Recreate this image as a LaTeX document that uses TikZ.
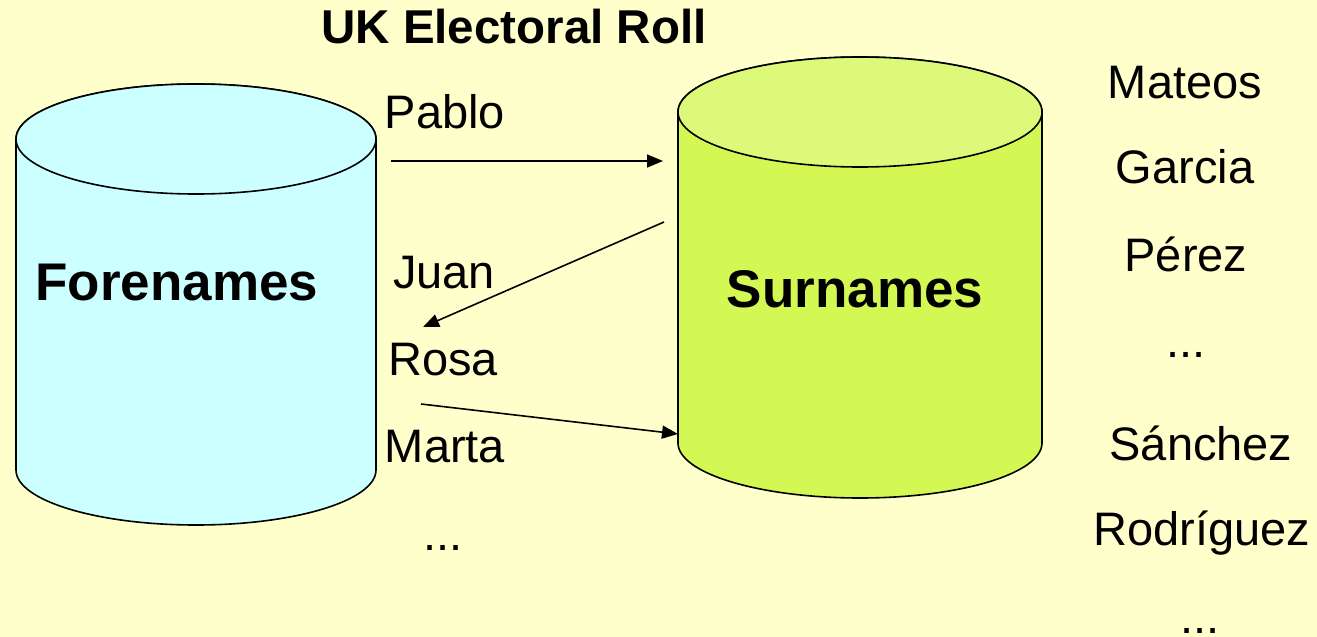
\documentclass[tikz,border=0pt]{standalone}
\usepackage{fontspec}
\setmainfont{Liberation Sans}
\usetikzlibrary{arrows.meta}
\definecolor{bgyellow}{HTML}{FFFFCC}
\definecolor{forefill}{HTML}{CCFFFF}
\definecolor{surbody}{HTML}{D4F853}
\definecolor{surtop}{HTML}{DDF97A}
\begin{document}
\begin{tikzpicture}[x=1pt,y=-1pt,
  lbl/.style={anchor=base,inner sep=0pt,font=\fontsize{47}{56}\selectfont},
  title/.style={anchor=base,inner sep=0pt,font=\fontsize{47.5}{56}\selectfont\bfseries},
  dbname/.style={anchor=base,inner sep=0pt,font=\fontsize{53}{62}\selectfont\bfseries},
  cyl/.style={draw=black,line width=1.6pt},
  conn/.style={line width=1.6pt,-{Triangle[length=16pt,width=13pt]}}]
\fill[bgyellow] (0,0) rectangle (1317,637);
\useasboundingbox (0,0) rectangle (1317,637);
% Forenames cylinder
\path[cyl,fill=forefill] (16,139) -- (16,470)
  arc[start angle=180,end angle=360,x radius=180pt,y radius=55pt]
  -- (376,139)
  arc[start angle=0,end angle=180,x radius=180pt,y radius=55pt] -- cycle;
\path[cyl,fill=forefill] (196,139) ellipse[x radius=180pt,y radius=55pt];
% Surnames cylinder
\path[cyl,fill=surbody] (678,112) -- (678,443)
  arc[start angle=180,end angle=360,x radius=182pt,y radius=55pt]
  -- (1042,112)
  arc[start angle=0,end angle=180,x radius=182pt,y radius=55pt] -- cycle;
\path[cyl,fill=surtop] (860,112) ellipse[x radius=182pt,y radius=55pt];
% titles
\node[title] (ttl) at (514,43) {UK Electoral Roll};
\node[dbname] (fore) at (177,300) {Forenames};
\node[dbname] (sur) at (855,307) {Surnames};
% forenames list
\node[lbl] (pablo) at (445,128) {Pablo};
\node[lbl] (juan) at (444,288) {Juan};
\node[lbl] (rosa) at (443,375) {Rosa};
\node[lbl] (marta) at (445,462) {Marta};
\node[lbl] (fdots) at (443,550) {...};
% surnames list
\node[lbl] (mateos) at (1185,98) {Mateos};
\node[lbl] (garcia) at (1185,183) {Garcia};
\node[lbl] (perez) at (1186,271) {Pérez};
\node[lbl] (sdots1) at (1186,357) {...};
\node[lbl] (sanchez) at (1201,460) {Sánchez};
\node[lbl] (rodriguez) at (1202,545) {Rodríguez};
\node[lbl] (sdots2) at (1200,633) {...};
% connector end points
\coordinate (a1s) at (391,161);
\coordinate (a1e) at (663,161);
\coordinate (a2s) at (664,222);
\coordinate (a2e) at (423,327);
\coordinate (a3s) at (421,404);
\coordinate (a3e) at (678,434);
\draw[conn] (a1s) -- (a1e);
\draw[conn] (a2s) -- (a2e);
\draw[conn] (a3s) -- (a3e);
\end{tikzpicture}
\end{document}
